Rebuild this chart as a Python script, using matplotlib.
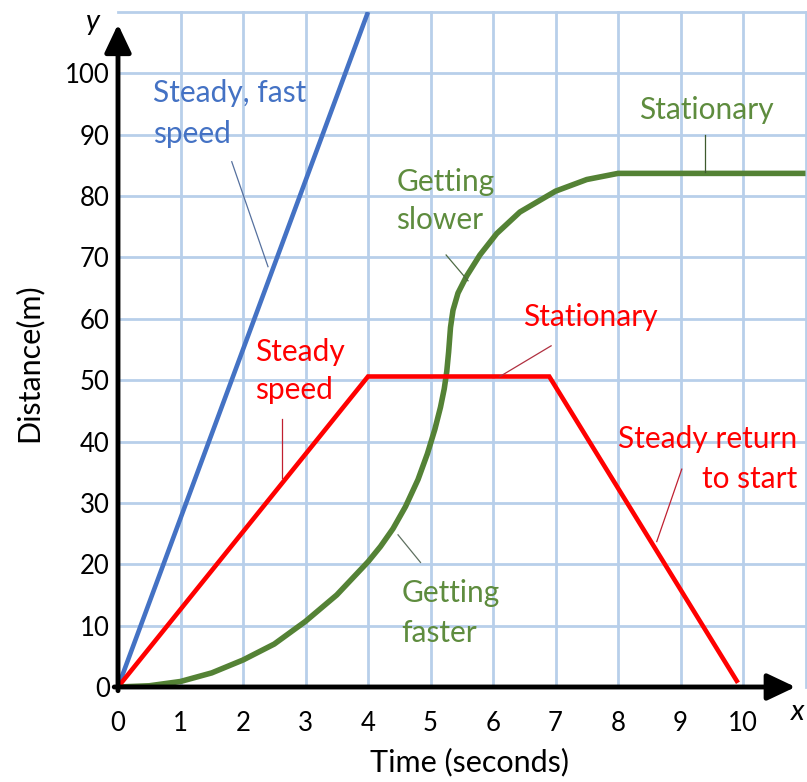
import matplotlib
matplotlib.use("Agg")
import matplotlib.pyplot as plt

# ---- data ----
blue_x = [0, 4.0]
blue_y = [0, 110]

red_x = [0, 4.0, 6.9, 9.9]
red_y = [0, 50.6, 50.6, 1.0]

green_x = [0, 0.5, 1.0, 1.5, 2.0, 2.5, 3.0, 3.5, 4.0, 4.2, 4.4, 4.6, 4.8, 4.95,
           5.07, 5.16, 5.22, 5.26, 5.29, 5.32, 5.36, 5.44, 5.58, 5.79, 6.06, 6.43,
           7.0, 7.5, 8.0, 11.0]
green_y = [0, 0.2, 0.9, 2.3, 4.4, 7.0, 10.7, 15.0, 20.4, 22.9, 25.8, 29.4, 33.8, 38.0,
           42.0, 45.6, 48.6, 51.4, 54.6, 58.6, 61.4, 64.2, 67.0, 70.4, 73.9, 77.4,
           80.8, 82.7, 83.7, 83.7]

x_ticks = list(range(0, 11))
y_ticks = list(range(0, 101, 10))

FONT = "Lato"
BLUE = "#4472C4"
RED = "#FF0000"
GREEN_LINE = "#548235"
GREEN_TXT = "#5E8C3E"
GRID = "#B8CFEA"
TXT = 21.5

W, H = 807, 782
fig = plt.figure(figsize=(W / 100, H / 100), dpi=100)
ax = fig.add_axes([118 / W, (H - 687) / H, (805.5 - 118) / W, (687 - 12) / H])
ax.set_xlim(0, 11)
ax.set_ylim(0, 110)
for s in ax.spines.values():
    s.set_visible(False)

# grid
for gx in range(1, 12):
    ax.plot([gx, gx], [0, 110], color=GRID, lw=2, zorder=1, clip_on=False)
for gy in range(10, 111, 10):
    ax.plot([0, 11], [gy, gy], color=GRID, lw=2, zorder=1, clip_on=False)

# curves
ax.plot(blue_x, blue_y, color=BLUE, lw=3.3, zorder=4, solid_capstyle="butt")
ax.plot(red_x, red_y, color=RED, lw=3.3, zorder=4, solid_joinstyle="miter")
ax.plot(green_x, green_y, color=GREEN_LINE, lw=4.0, zorder=3,
        solid_capstyle="butt", solid_joinstyle="round")

# axes with arrows
ax.annotate("", xy=(10.84, 0), xytext=(-0.06, 0), zorder=6,
            arrowprops=dict(arrowstyle="-|>,head_length=0.95,head_width=0.45",
                            mutation_scale=18, lw=3.5, color="black",
                            shrinkA=0, shrinkB=0), annotation_clip=False)
ax.annotate("", xy=(0, 108.0), xytext=(0, -0.6), zorder=6,
            arrowprops=dict(arrowstyle="-|>,head_length=0.95,head_width=0.45",
                            mutation_scale=18, lw=3.5, color="black",
                            shrinkA=0, shrinkB=0), annotation_clip=False)

# ticks
ax.set_xticks(x_ticks)
ax.set_xticklabels([str(v) for v in x_ticks], fontsize=18.5, family=FONT)
ax.set_yticks(y_ticks)
ax.set_yticklabels([str(v) for v in y_ticks], fontsize=18.5, family=FONT)
ax.tick_params(axis="both", length=0)
ax.tick_params(axis="x", pad=17.5)
ax.tick_params(axis="y", pad=6)

# axis labels
fig.text(28 / W, 1 - 363 / H, "Distance(m)", rotation=90, ha="center", va="center",
         fontsize=22, family=FONT)
fig.text(469 / W, 1 - 762 / H, "Time (seconds)", ha="center", va="center",
         fontsize=22, family=FONT)
fig.text(93 / W, 1 - 22 / H, "y", ha="center", va="center", fontsize=21,
         family=FONT, style="italic")
fig.text(798 / W, 1 - 712 / H, "x", ha="center", va="center", fontsize=21,
         family=FONT, style="italic")


def label(lines, x, baselines, color, ha="left"):
    for txt, yb in zip(lines, baselines):
        ax.text(x, yb, txt, ha=ha, va="baseline", color=color, fontsize=TXT,
                family=FONT, zorder=7)


def pointer(x0, y0, x1, y1, color):
    ax.plot([x0, x1], [y0, y1], color=color, lw=0.9, zorder=5, clip_on=False)


label(["Steady, fast", "speed"], 0.56, [95.4, 88.7], BLUE)
pointer(1.82, 85.6, 2.4, 68.5, "#55709E")

label(["Getting", "slower"], 4.45, [80.9, 74.7], GREEN_TXT)
pointer(5.25, 70.4, 5.6, 66.2, "#4F6B45")

label(["Stationary"], 8.34, [92.5], GREEN_TXT)
pointer(9.39, 89.9, 9.39, 83.9, "#3E5A2E")

label(["Stationary"], 6.48, [58.8], RED)
pointer(6.93, 55.6, 6.11, 50.6, "#B03040")

label(["Steady", "speed"], 2.19, [53.1, 46.9], RED)
pointer(2.62, 43.6, 2.62, 34.1, "#C02030")

label(["Getting", "faster"], 4.54, [13.9, 7.4], GREEN_TXT)
pointer(4.48, 24.8, 4.84, 20.3, "#5F7060")

label(["Steady return", "to start"], 10.86, [39.0, 32.5], RED, ha="right")
pointer(9.02, 35.5, 8.62, 23.7, "#C02030")

fig.savefig("out.png", dpi=100, facecolor="white")
